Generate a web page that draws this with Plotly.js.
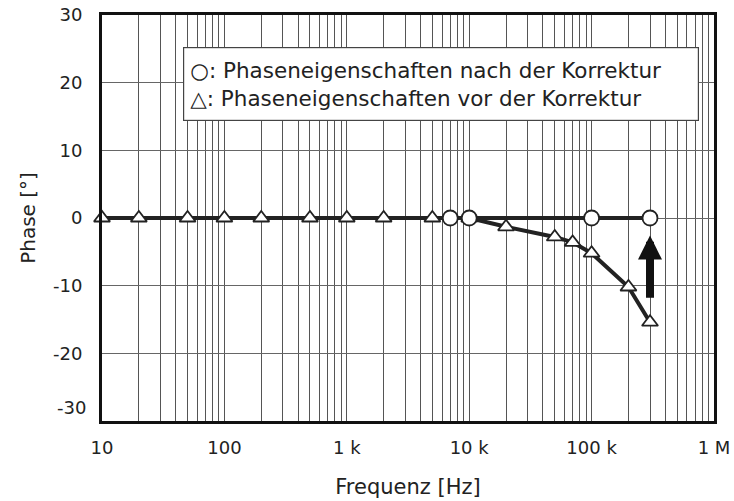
<!DOCTYPE html>
<html>
<head>
<meta charset="utf-8">
<script src="https://cdn.plot.ly/plotly-3.0.1.min.js"></script>
<style>html,body{margin:0;padding:0;background:#fff;}#chart{width:734px;height:501px;}</style>
</head>
<body>
<div id="chart"></div>
<script>
// Before correction (triangles)
const beforeFreq  = [10, 20, 50, 100, 200, 500, 1000, 2000, 5000, 10000, 20000, 50000, 70000, 100000, 200000, 300000];
const beforePhase = [0, 0, 0, 0, 0, 0, 0, 0, 0, 0, -1.3, -2.8, -3.6, -5.2, -10.2, -15.4];
// After correction (circles)
const afterFreq  = [7000, 10000, 100000, 300000];
const afterPhase = [0, 0, 0, 0];

const xTickVals = [10, 100, 1000, 10000, 100000, 1000000];
const xTickText = ['10', '100', '1 k', '10 k', '100 k', '1 M'];
const yTickVals = [-20, -10, 0, 10, 20, 30];
const yTickText = ['-20', '-10', '0', '10', '20', '30'];

const legendLines = ['\u25CB: Phaseneigenschaften nach der Korrektur', '\u25B3: Phaseneigenschaften vor der Korrektur'];

// arrow: frequency and phases of tail and tip
const arrowFreq = 300000, arrowTail = -12, arrowTip = -2.6;

// grid values at every 1..9 multiple per decade
const gridVals = [];
for (let d = 1; d <= 5; d++) for (let m = 1; m <= 9; m++) gridVals.push(m * Math.pow(10, d));
gridVals.push(1e6);
const gridText = gridVals.map(v => { const i = xTickVals.indexOf(v); return i >= 0 ? xTickText[i] : ''; });

const fam = 'DejaVu Sans, Verdana, sans-serif';
const tickFont = {family: fam, size: 18, color: '#222'};
const titleFont = {family: fam, size: 21, color: '#222'};
const yTitleFont = {family: fam, size: 20, color: '#222'};
const legendFont = {family: fam, size: 21.5, color: '#222'};

const traces = [
  {x: beforeFreq, y: beforePhase, type: 'scatter', mode: 'lines+markers',
   line: {color: '#222', width: 4},
   marker: {symbol: 'triangle-up', size: 14, color: '#fff', line: {color: '#222', width: 1.8}},
   cliponaxis: false, hoverinfo: 'skip'},
  {x: afterFreq, y: afterPhase, type: 'scatter', mode: 'lines+markers',
   line: {color: '#222', width: 4},
   marker: {symbol: 'circle', size: 15, color: '#fff', line: {color: '#222', width: 1.8}},
   cliponaxis: false, hoverinfo: 'skip'}
];

const layout = {
  width: 734, height: 501,
  margin: {l: 102, r: 20, t: 15, b: 80},
  paper_bgcolor: '#fff', plot_bgcolor: '#fff',
  showlegend: false,
  font: tickFont,
  xaxis: {
    type: 'log', range: [1, 6],
    tickvals: gridVals, ticktext: gridText,
    ticks: 'outside', ticklen: 8, tickcolor: 'rgba(0,0,0,0)',
    showgrid: true, gridcolor: '#555', gridwidth: 1,
    showline: true, linecolor: '#111', linewidth: 3, mirror: true,
    zeroline: false,
    tickfont: tickFont,
    title: {text: 'Frequenz [Hz]', font: titleFont, standoff: 23}
  },
  yaxis: {
    range: [-30, 30],
    tickvals: yTickVals, ticktext: yTickText,
    ticks: 'outside', ticklen: 13, tickcolor: 'rgba(0,0,0,0)',
    showgrid: true, gridcolor: '#666', gridwidth: 1,
    showline: true, linecolor: '#111', linewidth: 3, mirror: true,
    zeroline: false,
    tickfont: tickFont,
    title: {text: 'Phase [°]', font: yTitleFont, standoff: 12}
  },
  annotations: [
    {xref: 'paper', yref: 'y', x: 0, y: -28, xanchor: 'right', yanchor: 'middle',
     xshift: -14, text: '-30', showarrow: false, font: tickFont},
    {xref: 'paper', yref: 'paper', x: 0.132, y: 0.921, xanchor: 'left', yanchor: 'top',
     text: legendLines.join('<br>'), showarrow: false, align: 'left',
     width: 502, height: 60, borderpad: 6, bordercolor: '#444', borderwidth: 1.2,
     bgcolor: '#fff', font: legendFont},
    {xref: 'x', yref: 'y', axref: 'x', ayref: 'y',
     x: Math.log10(arrowFreq), y: arrowTip, ax: Math.log10(arrowFreq), ay: arrowTail,
     text: '', showarrow: true, arrowhead: 2, arrowsize: 0.6, arrowwidth: 8, arrowcolor: '#111', standoff: 0}
  ]
};

Plotly.newPlot('chart', traces, layout, {displayModeBar: false, staticPlot: true});
</script>
</body>
</html>
